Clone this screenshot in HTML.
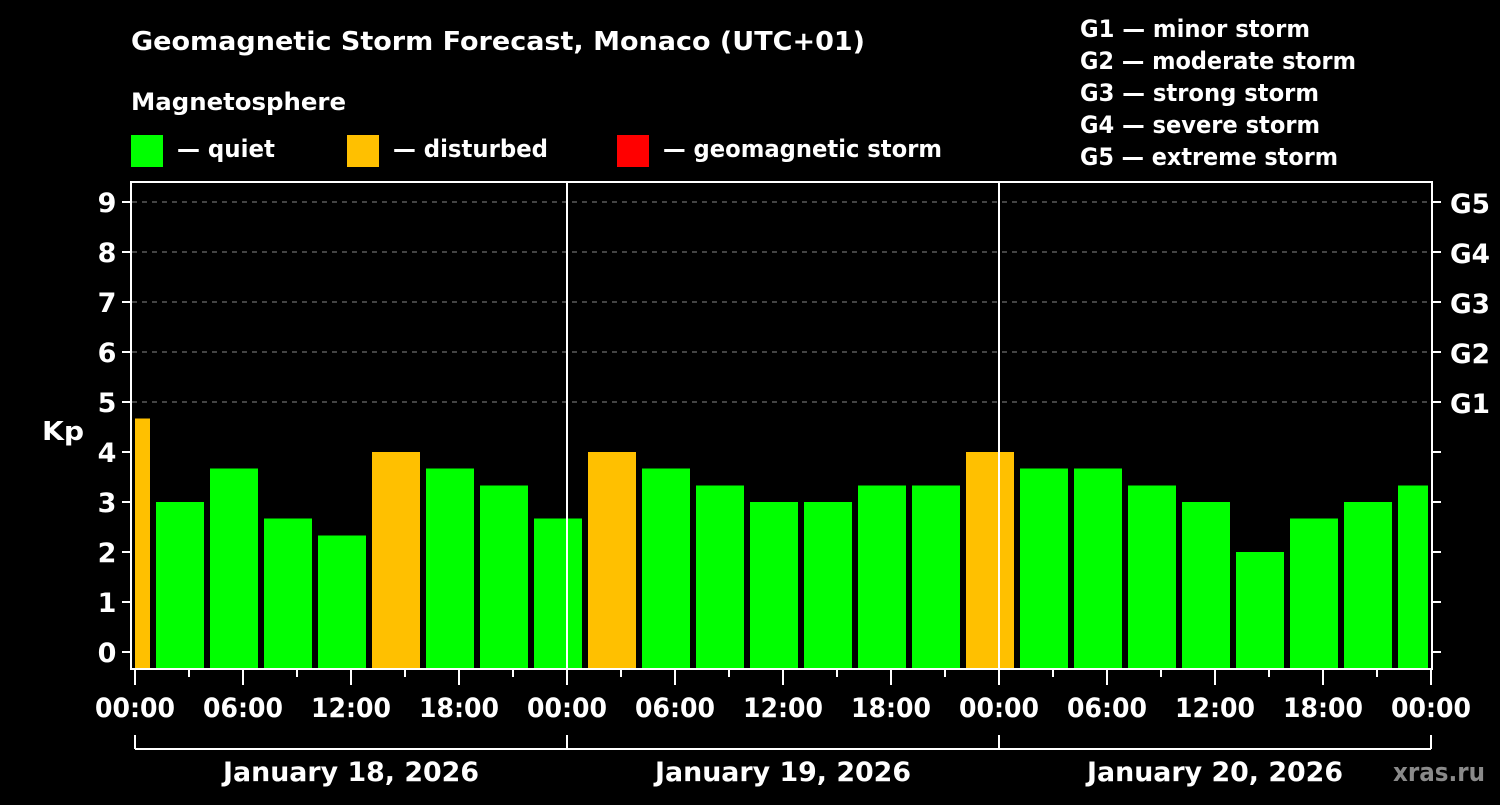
<!DOCTYPE html>
<html><head><meta charset="utf-8"><style>
body{margin:0;background:#000;}
svg text{font-family:"DejaVu Sans","Liberation Sans",Arial,sans-serif;font-weight:bold;fill:#fff;}
</style></head><body>
<svg id="c" width="1500" height="800" xmlns="http://www.w3.org/2000/svg">
<rect width="1500" height="800" fill="#000"/>
<text x="131" y="50" font-size="26" textLength="734" lengthAdjust="spacingAndGlyphs">Geomagnetic Storm Forecast, Monaco (UTC+01)</text>
<text x="131" y="110" font-size="24" textLength="215" lengthAdjust="spacingAndGlyphs">Magnetosphere</text>
<g><rect x="131" y="135" width="32" height="32" fill="#00ff00"/><text x="177" y="157" font-size="24" textLength="98" lengthAdjust="spacingAndGlyphs">— quiet</text></g>
<g><rect x="347" y="135" width="32" height="32" fill="#ffc000"/><text x="393" y="157" font-size="24" textLength="155" lengthAdjust="spacingAndGlyphs">— disturbed</text></g>
<g><rect x="617" y="135" width="32" height="32" fill="#ff0000"/><text x="663" y="157" font-size="24" textLength="279" lengthAdjust="spacingAndGlyphs">— geomagnetic storm</text></g>
<g font-size="24">
<text x="1080" y="37" textLength="230" lengthAdjust="spacingAndGlyphs">G1 — minor storm</text><text x="1080" y="69" textLength="276" lengthAdjust="spacingAndGlyphs">G2 — moderate storm</text><text x="1080" y="101" textLength="239" lengthAdjust="spacingAndGlyphs">G3 — strong storm</text><text x="1080" y="133" textLength="240" lengthAdjust="spacingAndGlyphs">G4 — severe storm</text><text x="1080" y="165" textLength="258" lengthAdjust="spacingAndGlyphs">G5 — extreme storm</text></g>
<text x="42" y="440" font-size="26" textLength="42" lengthAdjust="spacingAndGlyphs">Kp</text>
<text x="1393" y="781" font-size="26" textLength="92" lengthAdjust="spacingAndGlyphs" style="fill:#8a8a8a">xras.ru</text>
<g id="g"></g>
</svg>
<script>
const kpValues=[4.67,3,3.67,2.67,2.33,4,3.67,3.33,2.67,4,3.67,3.33,3,3,3.33,3.33,4,3.67,3.67,3.33,3,2,2.67,3,3.33];
const barStartHours=[-2,1,4,7,10,13,16,19,22,25,28,31,34,37,40,43,46,49,52,55,58,61,64,67,70];
const yTicks=[0,1,2,3,4,5,6,7,8,9];
const gLabels=["G1","G2","G3","G4","G5"];
const xTickLabels=["00:00","06:00","12:00","18:00","00:00","06:00","12:00","18:00","00:00","06:00","12:00","18:00","00:00"];
const dayLabels=["January 18, 2026","January 19, 2026","January 20, 2026"];
const NS="http://www.w3.org/2000/svg",g=document.getElementById('g');
const X0=135,PXH=18,H0=0,HMAX=72;
const xs=h=>X0+h*PXH, ys=v=>652-v*50;
function mk(t,a,txt){const e=document.createElementNS(NS,t);for(const k in a)e.setAttribute(k,a[k]);if(txt!=null)e.textContent=txt;g.appendChild(e);return e;}
yTicks.forEach(v=>{if(v>=5){const e=mk('line',{x1:132,x2:1432,y1:ys(v),y2:ys(v),stroke:'#888','stroke-dasharray':'5,5','stroke-width':1});

}});
kpValues.forEach((v,i)=>{const s=Math.max(barStartHours[i],H0),en=Math.min(barStartHours[i]+3,HMAX);
let x1=xs(s)+(barStartHours[i]<H0?0:3),x2=xs(en)-3;
const col=v>=5?'#ff0000':(v>=4?'#ffc000':'#00ff00');
const r=mk('rect',{x:x1,y:ys(v),width:x2-x1,height:668-ys(v),fill:col});

});
[24,48].forEach(h=>{const l=mk('line',{x1:xs(h),x2:xs(h),y1:182,y2:668,stroke:'#fff','stroke-width':2});

});
const f=mk('rect',{x:131,y:182,width:1301,height:487,fill:'none',stroke:'#fff','stroke-width':2});


yTicks.forEach(v=>{mk('line',{x1:122,x2:131,y1:ys(v),y2:ys(v),stroke:'#fff','stroke-width':2});
mk('line',{x1:1432,x2:1441,y1:ys(v),y2:ys(v),stroke:'#fff','stroke-width':2});
const t=mk('text',{x:107,y:ys(v)+10,'font-size':27,'text-anchor':'middle'},v);


if(v>=5){const r=mk('text',{x:1450,y:ys(v)+11,'font-size':27,textLength:40,lengthAdjust:'spacingAndGlyphs'},gLabels[v-5]);

}});
for(let h=0;h<=HMAX;h+=3){const maj=h%6===0;mk('line',{x1:xs(h),x2:xs(h),y1:669,y2:maj?685:677,stroke:'#fff','stroke-width':2});}
xTickLabels.forEach((lab,i)=>{const t=mk('text',{x:xs(i*6)-40,y:717,'font-size':27,textLength:80,lengthAdjust:'spacingAndGlyphs'},lab);

});
mk('line',{x1:xs(0),x2:xs(72),y1:749,y2:749,stroke:'#fff','stroke-width':2});
[0,24,48,72].forEach(h=>mk('line',{x1:xs(h),x2:xs(h),y1:735,y2:749,stroke:'#fff','stroke-width':2}));
dayLabels.forEach((d,i)=>{const t=mk('text',{x:xs(i*24+12)-128,y:781,'font-size':27,textLength:256,lengthAdjust:'spacingAndGlyphs'},d);

});
</script>
</body></html>
